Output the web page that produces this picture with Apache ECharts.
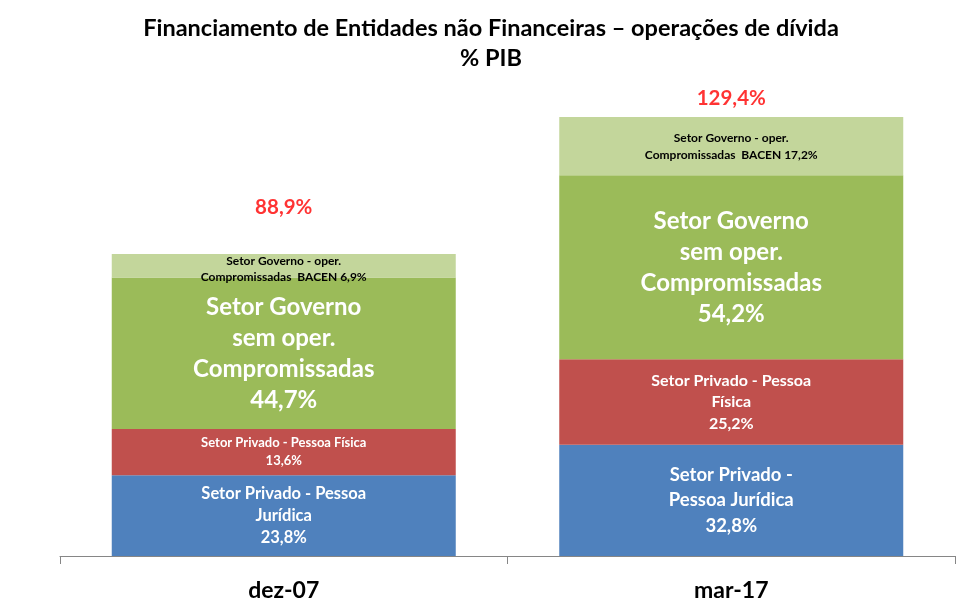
<!DOCTYPE html>
<html>
<head>
<meta charset="utf-8">
<script src="https://cdn.jsdelivr.net/npm/echarts@6/dist/echarts.min.js"></script>
<style>html,body{margin:0;padding:0;background:#fff}#c{width:973px;height:607px}</style>
</head>
<body>
<div id="c"></div>
<script>
const categories = ['dez-07', 'mar-17'];
const pessoaJuridica = [23.8, 32.8];
const pessoaFisica = [13.6, 25.2];
const governoSemOper = [44.7, 54.2];
const operBacen = [6.9, 17.2];
const totals = [88.9, 129.4];
const labelsPJ = ['Setor Privado - Pessoa\nJurídica\n23,8%', 'Setor Privado -\nPessoa Jurídica\n32,8%'];
const labelsPF = ['Setor Privado - Pessoa Física\n13,6%', 'Setor Privado - Pessoa\nFísica\n25,2%'];
const labelsGov = ['Setor Governo\nsem oper.\nCompromissadas\n44,7%', 'Setor Governo\nsem oper.\nCompromissadas\n54,2%'];
const labelsBacen = ['Setor Governo - oper.\nCompromissadas  BACEN 6,9%', 'Setor Governo - oper.\nCompromissadas  BACEN 17,2%'];
const totalLabels = ['88,9%', '129,4%'];

const FONT = 'Lato';
const chart = echarts.init(document.getElementById('c'));

function items(values, texts, styles) {
  return values.map((v, i) => ({
    value: v,
    label: Object.assign({ formatter: texts[i] }, styles[i])
  }));
}

const baseLabel = { show: true, position: 'inside', fontFamily: FONT, fontWeight: 'bold', color: '#fff', align: 'center' };

chart.setOption({
  animation: false,
  title: {
    text: 'Financiamento de Entidades não Financeiras – operações de dívida\n% PIB',
    left: 486,
    top: 8,
    textAlign: 'center',
    textStyle: { fontFamily: FONT, fontWeight: 'bold', fontSize: 23.5, color: '#000', lineHeight: 30 }
  },
  grid: { left: 60, right: 18, top: 81, bottom: 51, containLabel: false },
  xAxis: {
    type: 'category',
    data: categories,
    axisLine: { lineStyle: { color: '#868686', width: 1 } },
    axisTick: { show: true, length: 8, lineStyle: { color: '#868686' } },
    axisLabel: { fontFamily: FONT, fontWeight: 'bold', fontSize: 23, color: '#000', margin: 23 }
  },
  yAxis: { type: 'value', min: 0, max: 140, show: false },
  series: [
    {
      type: 'bar', stack: 't', barWidth: 344,
      itemStyle: { color: '#4F81BD' },
      label: baseLabel,
      data: items(pessoaJuridica, labelsPJ, [{ fontSize: 16.5, lineHeight: 22 }, { fontSize: 18.5, lineHeight: 25.5 }])
    },
    {
      type: 'bar', stack: 't', barWidth: 344,
      itemStyle: { color: '#C0504D' },
      label: baseLabel,
      data: items(pessoaFisica, labelsPF, [{ fontSize: 13, lineHeight: 18 }, { fontSize: 16, lineHeight: 21.5 }])
    },
    {
      type: 'bar', stack: 't', barWidth: 344,
      itemStyle: { color: '#9BBB59' },
      label: baseLabel,
      data: items(governoSemOper, labelsGov, [{ fontSize: 24, lineHeight: 31 }, { fontSize: 24, lineHeight: 31 }])
    },
    {
      type: 'bar', stack: 't', barWidth: 344,
      itemStyle: { color: '#C3D69B' },
      label: Object.assign({}, baseLabel, { color: '#000' }),
      data: items(operBacen, labelsBacen, [{ fontSize: 12, lineHeight: 16, offset: [0, 3] }, { fontSize: 12, lineHeight: 17 }])
    },
    {
      type: 'scatter',
      symbolSize: 0,
      data: [
        { value: totals[0], label: { distance: 36 } },
        { value: totals[1], label: { distance: 8 } }
      ],
      label: {
        show: true, position: 'top',
        formatter: p => totalLabels[p.dataIndex],
        fontFamily: FONT, fontWeight: 'bold', fontSize: 20.5, color: '#FF0000'
      }
    }
  ]
});
</script>
</body>
</html>
